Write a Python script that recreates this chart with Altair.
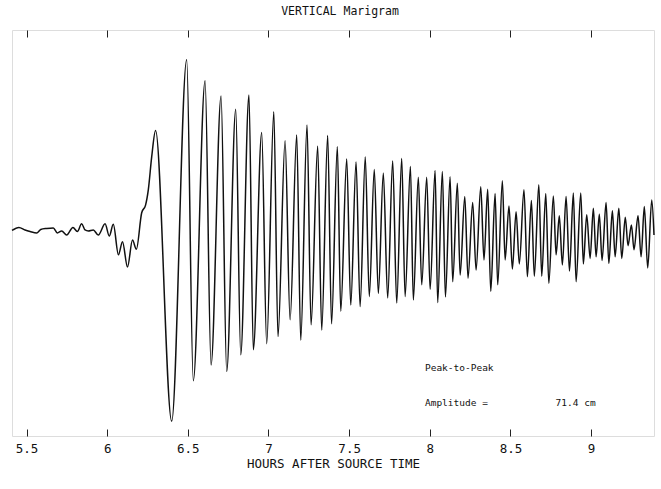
import altair as alt
import pandas as pd

# Marigram trace: time (hours after source time) and water level (cm)
hours = [
    5.410, 5.453, 5.491, 5.522, 5.563, 5.588, 5.625, 5.666, 5.691, 5.718,
    5.749, 5.788, 5.815, 5.842, 5.863, 5.883, 5.914, 5.945, 5.987, 6.013,
    6.038, 6.070, 6.095, 6.126, 6.157, 6.181, 6.214, 6.238, 6.255, 6.276,
    6.300,
    6.400, 6.493, 6.534, 6.607, 6.644, 6.706, 6.741, 6.797, 6.828, 6.879,
    6.906, 6.958, 6.989, 7.033, 7.059, 7.103, 7.134, 7.175, 7.200, 7.239,
    7.264, 7.305, 7.330, 7.367, 7.391, 7.427, 7.448, 7.485, 7.510, 7.543,
    7.568, 7.600, 7.625, 7.656, 7.681, 7.712, 7.739, 7.770, 7.795, 7.826,
    7.847, 7.880, 7.898, 7.929, 7.950, 7.981, 8.002, 8.033, 8.049, 8.078,
    8.097, 8.126, 8.142, 8.171, 8.188, 8.217, 8.237, 8.266, 8.287, 8.316,
    8.336, 8.359, 8.378, 8.405, 8.421, 8.450, 8.467, 8.491, 8.512, 8.535,
    8.555, 8.584, 8.605, 8.630, 8.648, 8.676, 8.694, 8.719, 8.738, 8.766,
    8.783, 8.803, 8.822, 8.845, 8.866, 8.890, 8.907, 8.936, 8.952, 8.973,
    8.994, 9.014, 9.031, 9.051, 9.068, 9.093, 9.110, 9.132, 9.149, 9.172,
    9.190, 9.212, 9.229, 9.250, 9.266, 9.291, 9.310, 9.330, 9.351, 9.376,
    9.390,
]
level_cm = [
    -0.1, 0.5, 0.0, -0.3, -0.6, 0.1, 0.3, 0.4, -0.6, -0.2,
    -1.0, 0.5, -0.3, 1.2, 0.0, -0.2, 0.0, -1.0, 1.2, -1.2,
    1.1, -4.9, -2.3, -7.3, -2.0, -3.8, 3.4, 4.9, 7.9, 14.4,
    19.6,
    -37.7, 33.6, -29.7, 29.4, -26.6, 26.4, -27.9, 23.8, -24.6, 26.6,
    -23.6, 19.2, -22.4, 23.3, -21.0, 17.6, -17.7, 18.7, -21.7, 20.7,
    -18.7, 16.5, -19.7, 18.6, -18.5, 16.4, -16.0, 14.0, -14.8, 13.4,
    -15.1, 14.4, -13.1, 11.9, -12.5, 11.2, -13.4, 13.6, -14.4, 14.1,
    -13.1, 12.5, -13.8, 10.4, -10.8, 10.4, -11.7, 11.7, -14.3, 11.5,
    -13.2, 10.5, -10.2, 9.2, -8.9, 6.6, -9.5, 5.4, -7.9, 8.5,
    -5.9, 8.0, -12.1, 7.2, -10.8, 9.7, -5.9, 4.7, -7.7, 3.6,
    -6.7, 7.9, -9.2, 5.8, -9.1, 8.9, -9.1, 7.2, -10.5, 6.7,
    -4.9, 2.8, -6.9, 6.6, -8.1, 7.3, -10.2, 7.3, -6.7, 3.0,
    -5.6, 4.3, -5.3, 3.1, -6.0, 5.4, -6.6, 3.8, -5.3, 4.3,
    -5.6, 2.5, -3.1, 1.0, -3.9, 2.8, -5.3, 4.6, -7.5, 5.9,
    -1.0,
]

tick_values = [5.5, 6.0, 6.5, 7.0, 7.5, 8.0, 8.5, 9.0]

note_texts = ["Peak-to-Peak", "Amplitude =", "71.4 cm"]
note_hours = [7.97, 7.97, 8.78]
note_cm = [-27.2, -34.1, -34.1]

X_DOMAIN = [5.41, 9.39]
Y_DOMAIN = [-40.6, 39.4]
MONO = "DejaVu Sans Mono"

trace = pd.DataFrame({"hours": hours, "cm": level_cm})
notes = pd.DataFrame({"hours": note_hours, "cm": note_cm, "text": note_texts})

line = alt.Chart(trace).mark_line(
    color="#111111", strokeWidth=1.5, interpolate="monotone"
).encode(
    x=alt.X(
        "hours:Q",
        scale=alt.Scale(domain=X_DOMAIN, nice=False, zero=False),
        axis=alt.Axis(
            orient="bottom", values=tick_values, format="~g", offset=-7,
            tickSize=7, tickColor="#222222", domain=False, grid=False,
            labelFont=MONO, labelFontSize=12.5, labelColor="#111111",
            labelPadding=6, title="HOURS AFTER SOURCE TIME",
            titleFont=MONO, titleFontSize=12.5, titleFontWeight="normal",
            titleColor="#111111", titlePadding=3,
        ),
    ),
    y=alt.Y("cm:Q", scale=alt.Scale(domain=Y_DOMAIN, nice=False, zero=False), axis=None),
)

text = alt.Chart(notes).mark_text(
    font=MONO, fontSize=9.5, align="left", baseline="middle", color="#111111"
).encode(
    x=alt.X(
        "hours:Q",
        scale=alt.Scale(domain=X_DOMAIN, nice=False, zero=False),
        axis=alt.Axis(
            orient="top", values=tick_values, offset=-7, tickSize=7,
            tickColor="#222222", domain=False, grid=False, labels=False,
            title=None,
        ),
    ),
    y=alt.Y("cm:Q", scale=alt.Scale(domain=Y_DOMAIN, nice=False, zero=False), axis=None),
    text="text:N",
)

chart = alt.layer(line, text).resolve_scale(x="independent").properties(
    width=642,
    height=406,
    autosize=alt.AutoSizeParams(type="none"),
    padding={"left": 12, "top": 30, "right": 7, "bottom": 53},
    title=alt.TitleParams(
        "VERTICAL Marigram", font=MONO, fontSize=11.5, fontWeight="normal",
        color="#111111", anchor="middle", offset=12, dx=7,
    ),
).configure_view(stroke="#222222", strokeWidth=1.2).configure(background="white")

chart.save("out.html", embed_options={"renderer": "svg", "actions": False})
